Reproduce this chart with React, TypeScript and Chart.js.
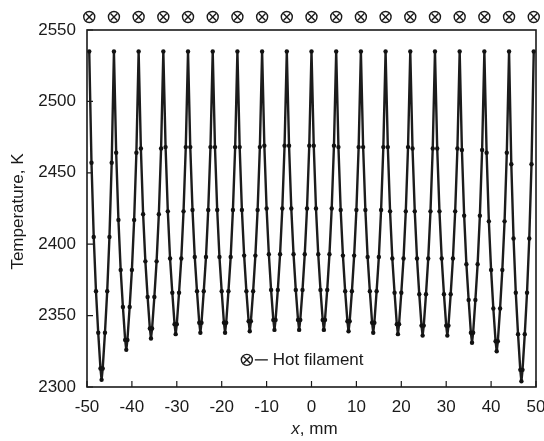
import { useEffect, useRef } from "react";
import { Chart, registerables } from "chart.js";

Chart.register(...registerables);

// Filament (peak) positions, mm
const filamentX = [
  -49.5, -44, -38.5, -33, -27.5, -22, -16.5, -11, -5.5, 0, 5.5, 11, 16.5, 22, 27.5, 33, 38.5, 44, 49.5,
];
// Offsets from a filament at which the temperature was read, mm
const sampleOffset = [0, 0.5, 1, 1.5, 2, 2.5, 2.75, 3, 3.5, 4, 4.5, 5];

// Temperatures (K) read along each period, starting at a filament
const period01 = [2535, 2457, 2405, 2367, 2338, 2313, 2305, 2313, 2338, 2367, 2405, 2457];
const period02 = [2535, 2464, 2417, 2382, 2356, 2333, 2326, 2333, 2356, 2382, 2417, 2464];
const period03 = [2535, 2467, 2421, 2388, 2363, 2341, 2334, 2341, 2363, 2388, 2421, 2467];
const period04 = [2535, 2468, 2423, 2390, 2366, 2344, 2337, 2344, 2366, 2390, 2423, 2468];
const period05 = [2535, 2468, 2424, 2391, 2367, 2345, 2338, 2345, 2367, 2391, 2424, 2468];
const period06 = [2535, 2468, 2424, 2391, 2367, 2345, 2338, 2345, 2367, 2391, 2424, 2468];
const period07 = [2535, 2468, 2424, 2392, 2367, 2346, 2339, 2346, 2367, 2392, 2424, 2468];
const period08 = [2535, 2469, 2425, 2393, 2368, 2347, 2340, 2347, 2368, 2393, 2425, 2469];
const period09 = [2535, 2469, 2425, 2393, 2368, 2347, 2340, 2347, 2368, 2393, 2425, 2469];
const period10 = [2535, 2469, 2425, 2393, 2368, 2347, 2340, 2347, 2368, 2393, 2425, 2469];
const period11 = [2535, 2468, 2424, 2392, 2367, 2346, 2339, 2346, 2367, 2392, 2424, 2468];
const period12 = [2535, 2468, 2424, 2391, 2367, 2345, 2338, 2345, 2367, 2391, 2424, 2468];
const period13 = [2535, 2468, 2423, 2390, 2366, 2344, 2337, 2344, 2366, 2390, 2423, 2468];
const period14 = [2535, 2467, 2423, 2390, 2365, 2343, 2336, 2343, 2365, 2390, 2423, 2467];
const period15 = [2535, 2467, 2423, 2390, 2365, 2343, 2336, 2343, 2365, 2390, 2423, 2467];
const period16 = [2535, 2466, 2420, 2386, 2361, 2338, 2331, 2338, 2361, 2386, 2420, 2466];
const period17 = [2535, 2464, 2416, 2382, 2355, 2332, 2325, 2332, 2355, 2382, 2416, 2464];
const period18 = [2535, 2456, 2404, 2366, 2337, 2312, 2304, 2312, 2337, 2366, 2404, 2456];
const lastPeakT = 2535;

const periods = [
  period01, period02, period03, period04, period05, period06, period07, period08, period09,
  period10, period11, period12, period13, period14, period15, period16, period17, period18,
];

const xTickValues = [-50, -40, -30, -20, -10, 0, 10, 20, 30, 40, 50];
const yTickValues = [2300, 2350, 2400, 2450, 2500, 2550];

const FONT = "'Liberation Sans', Arial, sans-serif";

function buildPoints() {
  const pts: { x: number; y: number }[] = [];
  periods.forEach((prof, i) => {
    prof.forEach((t, j) => pts.push({ x: filamentX[i] + sampleOffset[j], y: t }));
  });
  pts.push({ x: filamentX[filamentX.length - 1], y: lastPeakT });
  return pts;
}

function drawFilamentSymbol(ctx: CanvasRenderingContext2D, cx: number, cy: number, r: number) {
  ctx.beginPath();
  ctx.arc(cx, cy, r, 0, Math.PI * 2);
  ctx.stroke();
  const d = r * 0.62;
  ctx.beginPath();
  ctx.moveTo(cx - d, cy - d);
  ctx.lineTo(cx + d, cy + d);
  ctx.moveTo(cx + d, cy - d);
  ctx.lineTo(cx - d, cy + d);
  ctx.stroke();
}

const decorPlugin = {
  id: "decor",
  afterDraw(chart: any) {
    const { ctx, chartArea, scales } = chart;
    const xs = scales.x;
    const ys = scales.y;
    ctx.save();
    ctx.strokeStyle = "#1a1a1a";
    ctx.fillStyle = "#1a1a1a";
    // frame
    ctx.lineWidth = 1.6;
    ctx.strokeRect(chartArea.left, chartArea.top, chartArea.right - chartArea.left, chartArea.bottom - chartArea.top);
    // inward ticks
    ctx.lineWidth = 1.2;
    ctx.beginPath();
    xTickValues.forEach((v) => {
      const px = xs.getPixelForValue(v);
      ctx.moveTo(px, chartArea.bottom);
      ctx.lineTo(px, chartArea.bottom - 6);
    });
    yTickValues.forEach((v) => {
      const py = ys.getPixelForValue(v);
      ctx.moveTo(chartArea.left, py);
      ctx.lineTo(chartArea.left + 6, py);
    });
    ctx.stroke();
    // filament symbols on top
    ctx.lineWidth = 1.4;
    filamentX.forEach((fx) => {
      drawFilamentSymbol(ctx, xs.getPixelForValue(fx), chartArea.top - 13, 5.5);
    });
    // legend
    const ly = ys.getPixelForValue(2319);
    const lx = xs.getPixelForValue(-14.4);
    drawFilamentSymbol(ctx, lx, ly, 5.5);
    ctx.lineWidth = 1.3;
    ctx.beginPath();
    ctx.moveTo(lx + 8, ly);
    ctx.lineTo(lx + 21, ly);
    ctx.stroke();
    ctx.font = `17px ${FONT}`;
    ctx.textAlign = "left";
    ctx.textBaseline = "middle";
    ctx.fillText("Hot filament", lx + 26, ly);
    // y title
    ctx.save();
    ctx.translate(18, (chartArea.top + chartArea.bottom) / 2 + 3);
    ctx.rotate(-Math.PI / 2);
    ctx.textAlign = "center";
    ctx.fillText("Temperature, K", 0, 0);
    ctx.restore();
    // x title
    const t1 = "x";
    const t2 = ", mm";
    ctx.font = `italic 17px ${FONT}`;
    const w1 = ctx.measureText(t1).width;
    ctx.font = `17px ${FONT}`;
    const w2 = ctx.measureText(t2).width;
    const cx = (chartArea.left + chartArea.right) / 2 + 3;
    const start = cx - (w1 + w2) / 2;
    const ty = 429;
    ctx.font = `italic 17px ${FONT}`;
    ctx.fillText(t1, start, ty);
    ctx.font = `17px ${FONT}`;
    ctx.fillText(t2, start + w1, ty);
    ctx.restore();
  },
};

export default function App() {
  const ref = useRef<HTMLCanvasElement | null>(null);
  useEffect(() => {
    if (!ref.current) return;
    const chart = new Chart(ref.current, {
      type: "scatter",
      data: {
        datasets: [
          {
            data: buildPoints(),
            showLine: true,
            borderColor: "#1c1c1c",
            borderWidth: 2.4,
            borderJoinStyle: "round",
            borderCapStyle: "round",
            pointRadius: 2.2,
            pointBackgroundColor: "#111",
            pointBorderColor: "#111",
            pointBorderWidth: 0,
            tension: 0,
          },
        ],
      },
      plugins: [decorPlugin],
      options: {
        animation: false,
        responsive: false,
        maintainAspectRatio: false,
        layout: { padding: { top: 30, right: 8, left: 0, bottom: 0 } },
        plugins: { legend: { display: false }, tooltip: { enabled: false } },
        scales: {
          x: {
            type: "linear",
            min: -50,
            max: 50,
            grid: { display: false, drawTicks: false },
            border: { display: false },
            afterFit: (s: any) => {
              s.height = 54;
              s.paddingLeft = 0;
              s.paddingRight = 0;
            },
            afterBuildTicks: (s: any) => {
              s.ticks = xTickValues.map((v) => ({ value: v }));
            },
            ticks: {
              color: "#1a1a1a",
              padding: 10,
              font: { family: FONT, size: 17 },
              maxRotation: 0,
              callback: (v: any) => String(v),
            },
          },
          y: {
            type: "linear",
            min: 2300,
            max: 2550,
            grid: { display: false, drawTicks: false },
            border: { display: false },
            afterFit: (s: any) => {
              s.width = 87;
              s.paddingTop = 0;
              s.paddingBottom = 0;
            },
            afterBuildTicks: (s: any) => {
              s.ticks = yTickValues.map((v) => ({ value: v }));
            },
            ticks: {
              color: "#1a1a1a",
              padding: 11,
              font: { family: FONT, size: 17 },
              callback: (v: any) => String(v),
            },
          },
        },
      },
    });
    return () => chart.destroy();
  }, []);
  return (
    <div style={{ position: "fixed", left: 0, top: 0, width: 544, height: 441, background: "#fff" }}>
      <canvas ref={ref} width={544} height={441} />
    </div>
  );
}
